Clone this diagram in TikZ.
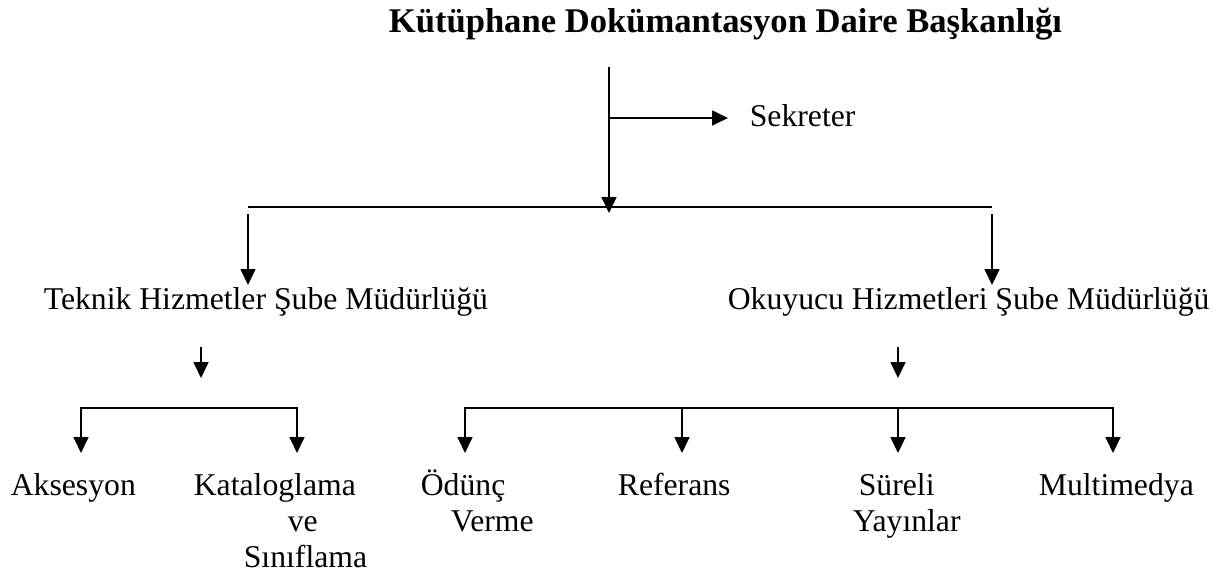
\documentclass[tikz,border=0pt]{standalone}
\usepackage{fontspec}
\setmainfont{Liberation Serif}
\usetikzlibrary{arrows.meta}
\begin{document}
\begin{tikzpicture}[x=1pt,y=-1pt,line width=1.7pt,
  arr/.style={-{Triangle[length=16pt,width=15pt]}},
  lbl/.style={inner sep=0pt,anchor=base west,font=\fontsize{31.7}{36}\selectfont},
  lbl2/.style={lbl,align=left},
  ttl/.style={inner sep=0pt,anchor=base west,font=\fontsize{34.6}{40}\selectfont\bfseries}]
\useasboundingbox (0,0) rectangle (1227,574);
% text nodes (multi-line nodes are placed at the baseline of their last line)
\node[ttl] (title) at (388,32) {Kütüphane Dokümantasyon Daire Başkanlığı};
\node[lbl] (sek) at (749,126) {Sekreter};
\node[lbl] (tek) at (43,309) {Teknik Hizmetler Şube Müdürlüğü};
\node[lbl] (oku) at (727,309) {Okuyucu Hizmetleri Şube Müdürlüğü};
\node[lbl] (aks) at (10,495) {Aksesyon};
\node[lbl2] (kat) at (193,567) {Kataloglama\\\hspace*{94pt}ve\\\hspace*{50pt}Sınıflama};
\node[lbl2] (odu) at (420,531) {Ödünç\\\hspace*{30pt}Verme};
\node[lbl] (ref) at (617,495) {Referans};
\node[lbl2] (sur) at (852,531) {\hspace*{6pt}Süreli\\Yayınlar};
\node[lbl] (mul) at (1038,495) {Multimedya};
% junction coordinates
\coordinate (top) at (609,67);
\coordinate (sb) at (609,118);
\coordinate (mtip) at (609,213);
\coordinate (barL) at (248,207);
\coordinate (barR) at (992,207);
\coordinate (tekTop) at (248,214);
\coordinate (tekTip) at (248,285);
\coordinate (okuTop) at (992,214);
\coordinate (okuTip) at (992,285);
\coordinate (tekDn) at (201,347);
\coordinate (tekDnTip) at (201,378);
\coordinate (okuDn) at (898,347);
\coordinate (okuDnTip) at (898,378);
\coordinate (lsM) at (201,408);
\coordinate (aksTip) at (81,453);
\coordinate (katTip) at (297,453);
\coordinate (rsM) at (898,408);
\coordinate (rsRef) at (682,408);
\coordinate (oduTip) at (465,453);
\coordinate (refTip) at (682,453);
\coordinate (surTip) at (898,453);
\coordinate (mulTip) at (1113,453);
% connectors
\draw[arr] (top) -- (mtip);
\draw[arr] (sb) -- (sb -| sek.west) [shorten >=21pt];
\draw (barL) -- (barR);
\draw[arr] (tekTop) -- (tekTip);
\draw[arr] (okuTop) -- (okuTip);
\draw[arr] (tekDn) -- (tekDnTip);
\draw[arr] (okuDn) -- (okuDnTip);
\draw[arr] (lsM) -| (aksTip);
\draw[arr] (lsM) -| (katTip);
\draw[arr] (rsM) -| (oduTip);
\draw[arr] (rsM) -| (mulTip);
\draw[arr] (rsRef) -- (refTip);
\draw[arr] (rsM) -- (surTip);
\end{tikzpicture}
\end{document}
